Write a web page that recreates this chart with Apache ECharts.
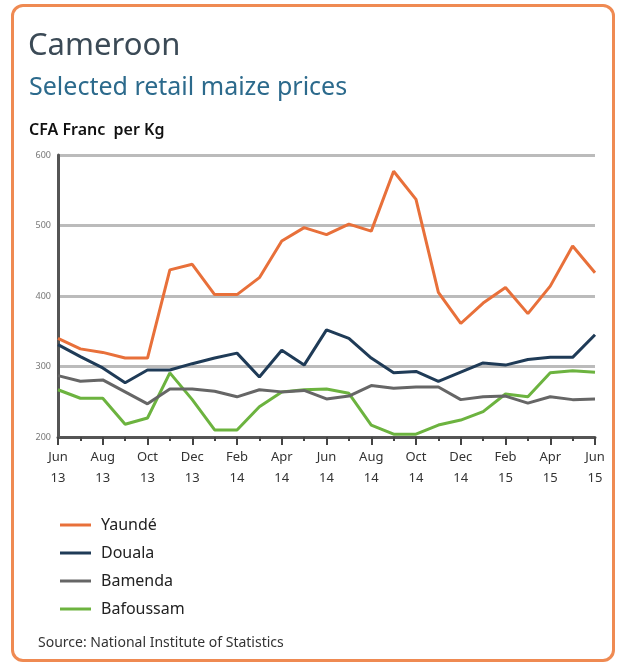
<!DOCTYPE html>
<html>
<head>
<meta charset="utf-8">
<script src="https://cdn.jsdelivr.net/npm/echarts@6/dist/echarts.min.js"></script>
<style>
  html, body { margin: 0; padding: 0; background: #fff; }
  .frame {
    position: absolute; left: 11px; top: 4px; width: 598px; height: 652px;
    border: 3px solid #ef8a52; border-radius: 12px;
  }
  #chart { position: absolute; left: 0; top: 0; width: 621px; height: 664px; }
</style>
</head>
<body>
<div class="frame"></div>
<div id="chart"></div>
<script>
// 月份 (Jun 2013 - Jun 2015)
var months = ['Jun\n13', 'Jul\n13', 'Aug\n13', 'Sep\n13', 'Oct\n13', 'Nov\n13', 'Dec\n13',
  'Jan\n14', 'Feb\n14', 'Mar\n14', 'Apr\n14', 'May\n14', 'Jun\n14', 'Jul\n14', 'Aug\n14',
  'Sep\n14', 'Oct\n14', 'Nov\n14', 'Dec\n14', 'Jan\n15', 'Feb\n15', 'Mar\n15', 'Apr\n15',
  'May\n15', 'Jun\n15'];

// 各城市价格
var yaounde = [340, 325, 320, 312, 312, 437, 445, 402, 402, 426, 478, 497, 487,
  502, 492, 577, 537, 405, 361, 390, 412, 375, 414, 471, 433];
var douala = [331, 314, 298, 277, 295, 295, 304, 312, 319, 285, 323, 302, 352,
  340, 312, 291, 293, 279, 292, 305, 302, 310, 313, 313, 345];
var bamenda = [287, 279, 281, 264, 247, 268, 268, 265, 257, 267, 264, 266, 254,
  258, 273, 269, 271, 271, 253, 257, 258, 248, 257, 253, 254];
var bafoussam = [267, 255, 255, 218, 227, 291, 253, 210, 210, 243, 264, 267, 268,
  262, 217, 204, 204, 217, 224, 236, 261, 257, 291, 294, 292];

var seriesNames = ['Yaundé', 'Douala', 'Bamenda', 'Bafoussam'];
var seriesColors = ['#e8703a', '#1f3b57', '#666666', '#6cb33f'];

(function() {
  var myChart = echarts.init(document.getElementById('chart'));
  var allData = [yaounde, douala, bamenda, bafoussam];

  var series = [];
  for (var i = 0; i < seriesNames.length; i++) {
    series.push({
      name: seriesNames[i],
      type: 'line',
      data: allData[i],
      symbol: 'none',
      z: 10 - i,
      lineStyle: { color: seriesColors[i], width: 3 },
      itemStyle: { color: seriesColors[i] }
    });
  }

  var option = {
    animation: false,
    textStyle: { fontFamily: 'Noto Sans' },
    title: [
      {
        text: 'Cameroon', left: 23, top: 26,
        textStyle: { fontSize: 31, fontWeight: 'normal', color: '#3b4a56', fontFamily: 'Noto Sans' }
      },
      {
        text: 'Selected retail maize prices', left: 24, top: 70,
        textStyle: { fontSize: 25, fontWeight: 'normal', color: '#2c6a8c', fontFamily: 'Noto Sans' }
      },
      {
        text: 'CFA Franc  per Kg', left: 24, top: 117,
        textStyle: { fontSize: 16, fontWeight: 600, color: '#111', fontFamily: 'Noto Sans' }
      },
      {
        text: 'Source: National Institute of Statistics', left: 33, top: 631,
        textStyle: { fontSize: 14, fontWeight: 'normal', color: '#333', fontFamily: 'Noto Sans' }
      }
    ],
    legend: {
      orient: 'vertical',
      left: 55, top: 512,
      icon: 'rect',
      itemWidth: 31, itemHeight: 3, itemGap: 12,
      textStyle: { fontSize: 16, color: '#222', padding: [0, 0, 0, 5] },
      data: seriesNames
    },
    grid: { left: 58, right: 26, top: 155, bottom: 227 },
    xAxis: [
      {
        type: 'category',
        data: months,
        boundaryGap: false,
        axisLine: { lineStyle: { color: '#555', width: 3 } },
        axisTick: { interval: 1, length: 8, lineStyle: { color: '#444', width: 2 } },
        axisLabel: { interval: 1, margin: 10, fontSize: 13, lineHeight: 21, color: '#333' },
        splitLine: { show: false }
      },
      {
        // 小刻度
        type: 'category',
        data: months,
        boundaryGap: false,
        position: 'bottom',
        axisLine: { show: false },
        axisTick: { interval: 0, length: 4, lineStyle: { color: '#444', width: 2 } },
        axisLabel: { show: false }
      }
    ],
    yAxis: {
      type: 'value',
      min: 200, max: 600, interval: 100,
      axisLine: { show: true, lineStyle: { color: '#555', width: 3 } },
      axisTick: { show: false },
      axisLabel: { fontSize: 9, color: '#777', margin: 7 },
      splitLine: { lineStyle: { color: '#bbbbbb', width: 3 } }
    },
    series: series
  };

  myChart.setOption(option);
  window.addEventListener('resize', function() {
    myChart.resize();
  });
})();
</script>
</body>
</html>
